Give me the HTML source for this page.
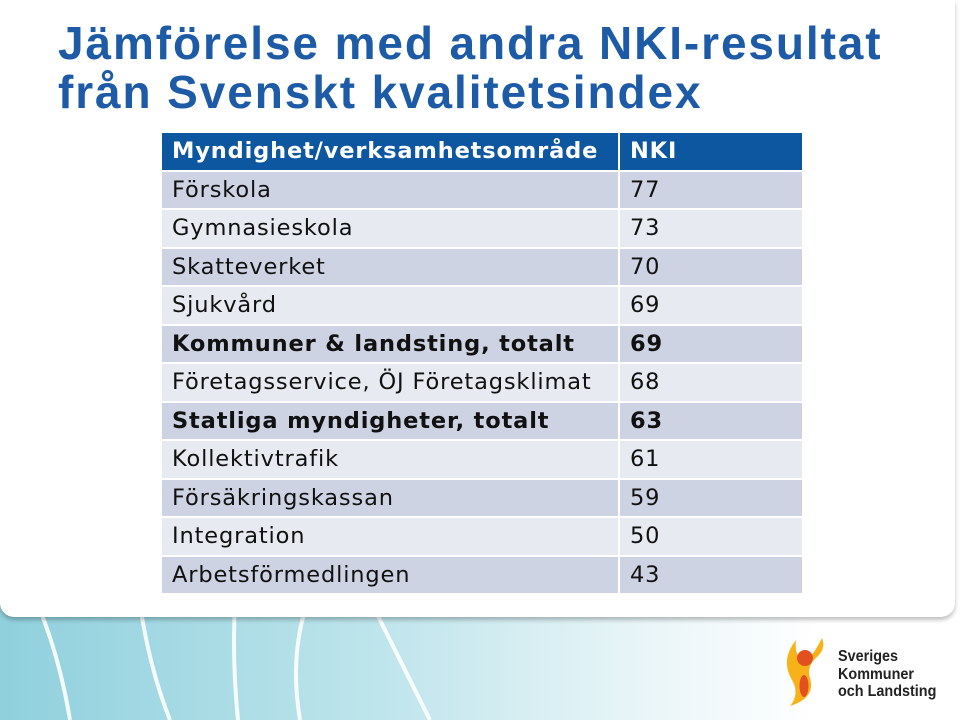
<!DOCTYPE html>
<html><head><meta charset="utf-8"><style>
body{margin:0;width:960px;height:720px;overflow:hidden;position:relative;font-family:"Liberation Sans",sans-serif;background:linear-gradient(90deg,#8fd0dd 0%,#bfe5ec 40%,#e6f4f7 65%,#fff 85%)}
#panel{position:absolute;left:0;top:0;width:955px;height:617px;background:#fff;border-radius:0 0 14px 14px;box-shadow:0 3px 4px rgba(0,0,0,.25)}
h1{position:absolute;left:58px;top:19px;margin:0;font-size:46px;line-height:49px;color:#1e5ba6;font-weight:bold;letter-spacing:1.9px;white-space:nowrap}
table{position:absolute;left:160px;top:133px;border-collapse:collapse;font-family:"DejaVu Sans",sans-serif;font-size:22.5px;letter-spacing:0.85px;color:#111;table-layout:fixed}
td{height:36.5px;padding:0 0 0 10px;border:2px solid #fff;white-space:nowrap;overflow:hidden}
td:first-child{width:446px}td:last-child{width:172px}
tr.h td{background:#0d57a0;color:#fff;font-weight:bold;border-top:0}
tr.o td{background:#cdd3e3}tr.e td{background:#e8eaf1}
tr.b td{font-weight:bold}
</style></head><body>
<svg style="position:absolute;left:0;top:600px" width="960" height="120">
<g stroke="#fff" stroke-width="4" fill="none" opacity=".9">
<path d="M40 10 Q60 60 70 120"/><path d="M140 5 Q150 70 170 120"/><path d="M235 5 Q232 60 238 120"/><path d="M305 10 Q290 60 300 120"/><path d="M375 10 Q400 60 430 120"/></g></svg>
<div id="panel"></div>
<h1>Jämförelse med andra NKI-resultat<br>från Svenskt kvalitetsindex</h1>
<table>
<tr class="h"><td>Myndighet/verksamhetsområde</td><td>NKI</td></tr>
<tr class="o"><td>Förskola</td><td>77</td></tr>
<tr class="e"><td>Gymnasieskola</td><td>73</td></tr>
<tr class="o"><td>Skatteverket</td><td>70</td></tr>
<tr class="e"><td>Sjukvård</td><td>69</td></tr>
<tr class="o b"><td>Kommuner &amp; landsting, totalt</td><td>69</td></tr>
<tr class="e"><td>Företagsservice, ÖJ Företagsklimat</td><td>68</td></tr>
<tr class="o b"><td>Statliga myndigheter, totalt</td><td>63</td></tr>
<tr class="e"><td>Kollektivtrafik</td><td>61</td></tr>
<tr class="o"><td>Försäkringskassan</td><td>59</td></tr>
<tr class="e"><td>Integration</td><td>50</td></tr>
<tr class="o"><td>Arbetsförmedlingen</td><td>43</td></tr>
</table>
<svg style="position:absolute;left:780px;top:638px" width="52" height="70">
<path d="M16 2 Q0 22 12 42 Q20 56 10 68 Q36 60 30 40 Q26 28 38 18 Q46 10 42 0 Q32 20 24 24 Q14 18 16 2Z" fill="#f7b21a"/>
<circle cx="25" cy="20" r="8" fill="#e2501f"/><ellipse cx="24" cy="48" rx="4.5" ry="11" fill="#e2501f"/></svg>
<div style="position:absolute;left:838px;top:648px;font-size:16px;line-height:17.5px;color:#222;font-family:'Liberation Sans Narrow','Liberation Sans',sans-serif;font-weight:bold;transform:scaleX(0.9);transform-origin:left">Sveriges<br>Kommuner<br>och Landsting</div>
</body></html>
